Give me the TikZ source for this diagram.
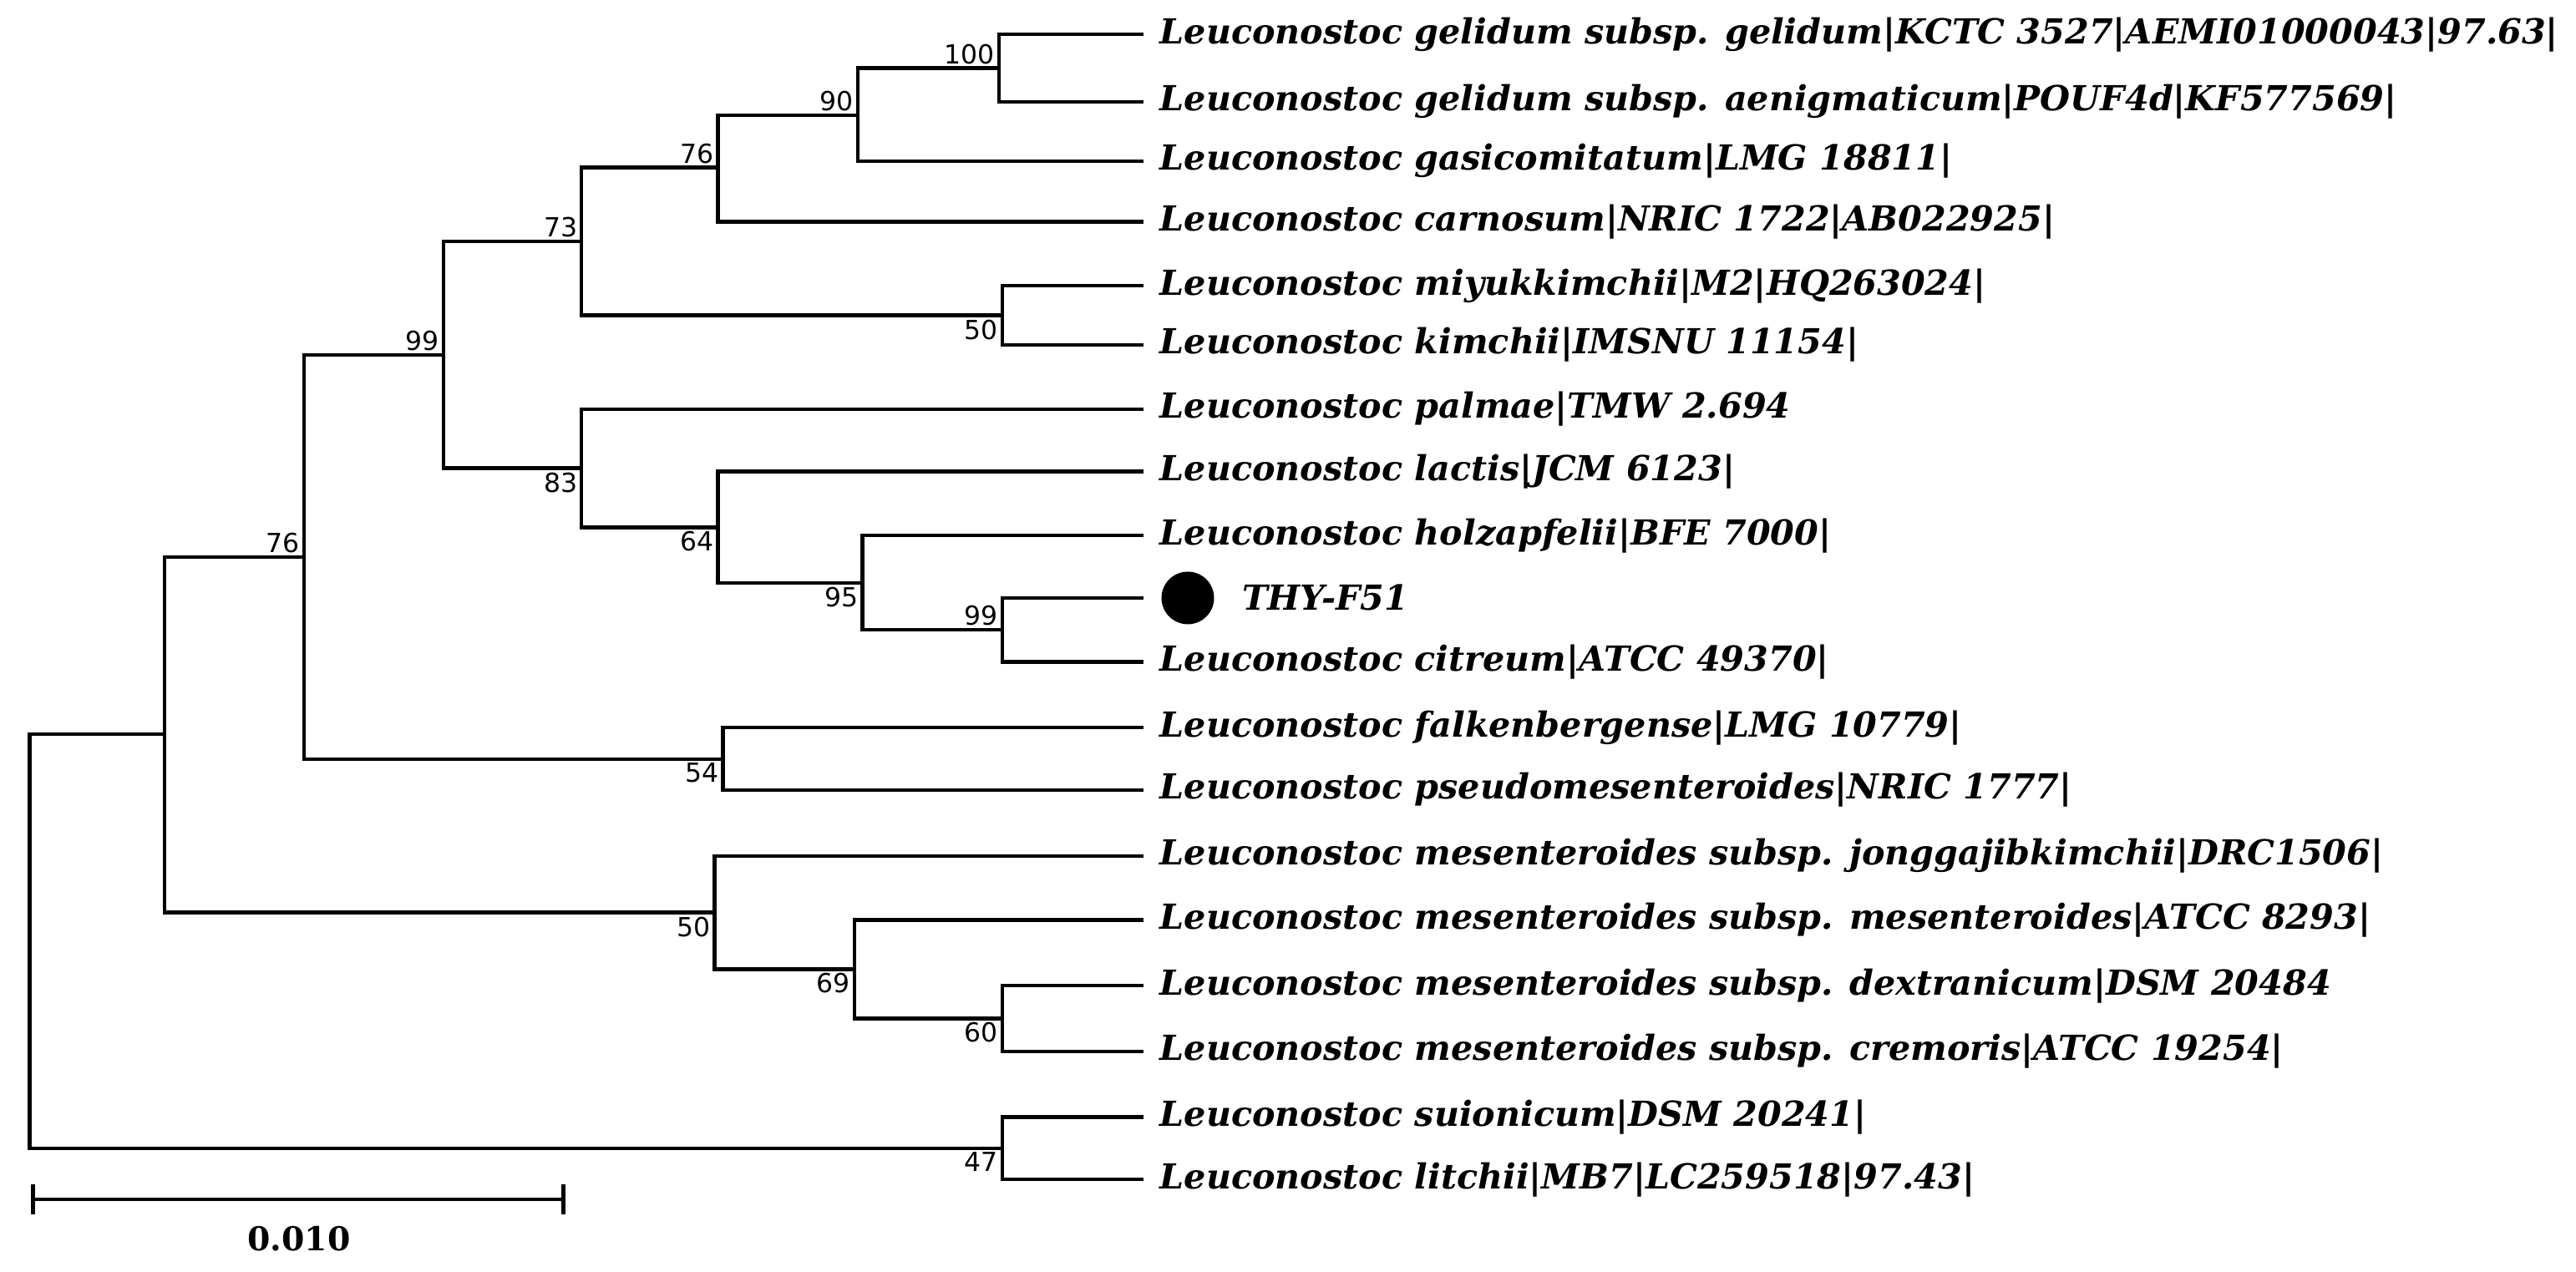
\documentclass[tikz,border=0pt]{standalone}
\usepackage{fontspec}
\setmainfont{DejaVu Serif}
\newfontfamily\bsfont{DejaVu Sans}
\begin{document}
\begin{tikzpicture}[x=1pt,y=-1pt,line width=2.2pt,
  leaf/.style={anchor=west,inner sep=0pt,font=\fontsize{21}{21}\selectfont\bfseries\itshape},
  bs/.style={inner sep=1.5pt,font=\fontsize{16}{16}\selectfont\bsfont},
  br/.style={line cap=rect}]
\useasboundingbox (0,0) rectangle (1568,774);
\def\tx{695}
\foreach \n/\y in {1/21,2/62,3/98,4/135,5/174,6/210,7/249,8/287,9/326,10/364,11/403,12/443,13/481,14/521,15/560,16/600,17/640,18/680,19/718}
  \coordinate (t\n) at (\tx,\y);
\node[leaf] (l1) at (705,21) {Leuconostoc gelidum subsp. gelidum|KCTC 3527|AEMI01000043|97.63|};
\node[leaf] (l2) at (705,62) {Leuconostoc gelidum subsp. aenigmaticum|POUF4d|KF577569|};
\node[leaf] (l3) at (705,98) {Leuconostoc gasicomitatum|LMG 18811|};
\node[leaf] (l4) at (705,135) {Leuconostoc carnosum|NRIC 1722|AB022925|};
\node[leaf] (l5) at (705,174) {Leuconostoc miyukkimchii|M2|HQ263024|};
\node[leaf] (l6) at (705,210) {Leuconostoc kimchii|IMSNU 11154|};
\node[leaf] (l7) at (705,249) {Leuconostoc palmae|TMW 2.694};
\node[leaf] (l8) at (705,287) {Leuconostoc lactis|JCM 6123|};
\node[leaf] (l9) at (705,326) {Leuconostoc holzapfelii|BFE 7000|};
\node[circle,fill=black,inner sep=0pt,minimum size=32pt] (dot) at (723,364) {};
\node[leaf] (l10) at (755,364) {THY-F51};
\node[leaf] (l11) at (705,403) {Leuconostoc citreum|ATCC 49370|};
\node[leaf] (l12) at (705,443) {Leuconostoc falkenbergense|LMG 10779|};
\node[leaf] (l13) at (705,481) {Leuconostoc pseudomesenteroides|NRIC 1777|};
\node[leaf] (l14) at (705,521) {Leuconostoc mesenteroides subsp. jonggajibkimchii|DRC1506|};
\node[leaf] (l15) at (705,560) {Leuconostoc mesenteroides subsp. mesenteroides|ATCC 8293|};
\node[leaf] (l16) at (705,600) {Leuconostoc mesenteroides subsp. dextranicum|DSM 20484};
\node[leaf] (l17) at (705,640) {Leuconostoc mesenteroides subsp. cremoris|ATCC 19254|};
\node[leaf] (l18) at (705,680) {Leuconostoc suionicum|DSM 20241|};
\node[leaf] (l19) at (705,718) {Leuconostoc litchii|MB7|LC259518|97.43|};
\coordinate (A) at (608,41.5);
\coordinate (B) at (522,70);
\coordinate (C) at (437,102);
\coordinate (D) at (610,192);
\coordinate (E) at (354,147);
\coordinate (F) at (610,383.5);
\coordinate (G) at (525,355);
\coordinate (H) at (437,321);
\coordinate (I) at (354,285);
\coordinate (J) at (270,216);
\coordinate (K) at (440,462);
\coordinate (L) at (185,339);
\coordinate (M) at (610,620);
\coordinate (N) at (520,590);
\coordinate (O) at (435,555.5);
\coordinate (P) at (100,447);
\coordinate (Q) at (610,699);
\coordinate (R) at (18,573);
\foreach \p/\a/\b in {A/t1/t2,B/A/t3,C/B/t4,D/t5/t6,E/C/D,F/t10/t11,G/t9/F,H/t8/G,I/t7/H,J/E/I,K/t12/t13,L/J/K,M/t16/t17,N/t15/M,O/t14/N,P/L/O,Q/t18/t19,R/P/Q}
  \draw[br] (\a) -| (\p) |- (\b);
\node[bs,anchor=south east] (b1) at (A) {100};
\node[bs,anchor=south east] (b2) at (B) {90};
\node[bs,anchor=south east] (b3) at (C) {76};
\node[bs,anchor=north east] (b4) at (D) {50};
\node[bs,anchor=south east] (b5) at (E) {73};
\node[bs,anchor=south east] (b6) at (F) {99};
\node[bs,anchor=north east] (b7) at (G) {95};
\node[bs,anchor=north east] (b8) at (H) {64};
\node[bs,anchor=north east] (b9) at (I) {83};
\node[bs,anchor=south east] (b10) at (J) {99};
\node[bs,anchor=north east] (b11) at (K) {54};
\node[bs,anchor=south east] (b12) at (L) {76};
\node[bs,anchor=north east] (b13) at (M) {60};
\node[bs,anchor=north east] (b14) at (N) {69};
\node[bs,anchor=north east] (b15) at (O) {50};
\node[bs,anchor=north east] (b16) at (Q) {47};
\coordinate (s1) at (20,730);
\coordinate (s2) at (343,730);
\draw (s1) -- (s2);
\draw ([yshift=-9]s1) -- ([yshift=9]s1);
\draw ([yshift=-9]s2) -- ([yshift=9]s2);
\node[font=\fontsize{20}{20}\selectfont\bfseries] (sl) at (182,754) {0.010};
\end{tikzpicture}
\end{document}
